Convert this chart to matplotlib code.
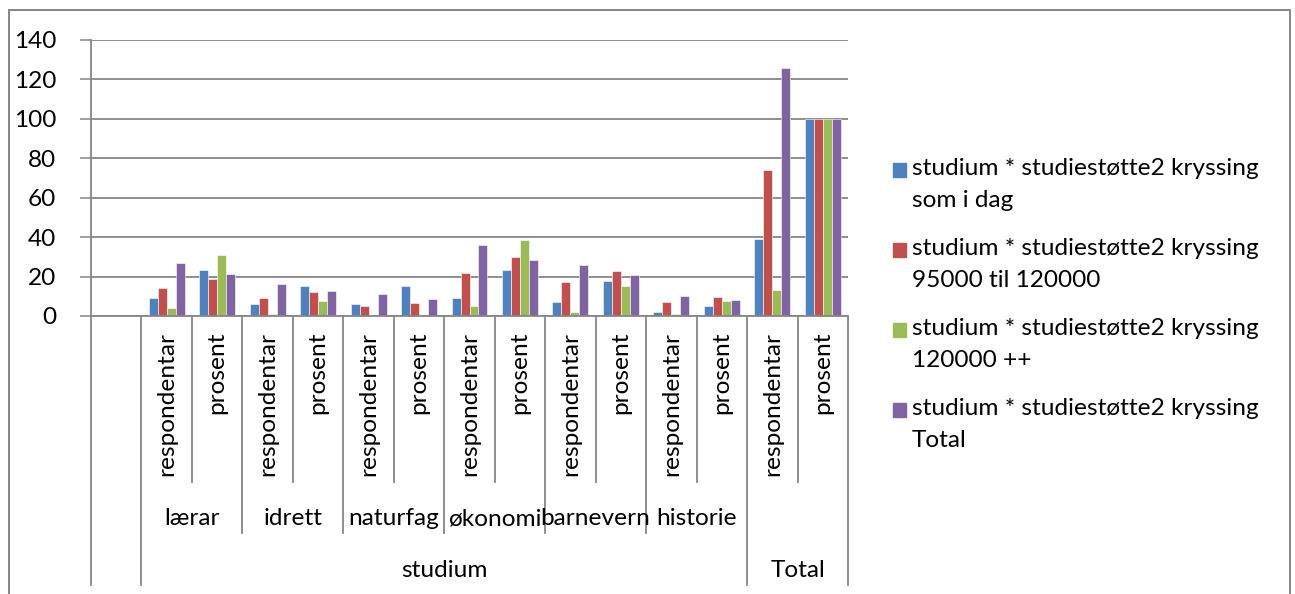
import matplotlib
matplotlib.use('Agg')
import matplotlib.pyplot as plt
import numpy as np
from matplotlib.transforms import blended_transform_factory
from matplotlib.lines import Line2D
from matplotlib.patches import Rectangle

# ---- data ----
groups = ['lærar', 'idrett', 'naturfag', 'økonomi', 'barnevern', 'historie']
top_groups = ['studium', 'Total']
measures = ['respondentar', 'prosent']
series_names = [
    'studium * studiestøtte2 kryssing\nsom i dag',
    'studium * studiestøtte2 kryssing\n95000 til 120000',
    'studium * studiestøtte2 kryssing\n120000 ++',
    'studium * studiestøtte2 kryssing\nTotal',
]
som_i_dag = [9, 23.1, 6, 15.4, 6, 15.4, 9, 23.1, 7, 17.9, 2, 5.1, 39, 100]
k95_120 = [14, 18.9, 9, 12.2, 5, 6.8, 22, 29.7, 17, 23.0, 7, 9.5, 74, 100]
k120_pp = [4, 30.8, 1, 7.7, 0, 0, 5, 38.5, 2, 15.4, 1, 7.7, 13, 100]
total = [27, 21.4, 16, 12.7, 11, 8.7, 36, 28.6, 26, 20.6, 10, 7.9, 126, 100]
yticks = [0, 20, 40, 60, 80, 100, 120, 140]

series = [som_i_dag, k95_120, k120_pp, total]
colors = ['#4F81BD', '#C0504D', '#9BBB59', '#8064A2']

W, H = 1295, 594
fig = plt.figure(figsize=(W / 100, H / 100), dpi=100)
plt.rcParams['font.family'] = ['Lato', 'DejaVu Sans']
FS = 17.6
GRAY = '#868686'

ax = fig.add_axes([91 / W, 1 - 316 / H, (848 - 91) / W, (316 - 40) / H])
ncat = 1 + len(som_i_dag)  # first slot is empty
x = np.arange(1, ncat)
bw = 0.178
for i, (vals, c) in enumerate(zip(series, colors)):
    ax.bar(x + (i - 1.5) * bw, vals, width=bw, color=c, edgecolor='white',
           linewidth=0.4, zorder=3)

ax.set_xlim(-0.5, ncat - 0.5)
ax.set_ylim(0, 140)
ax.set_yticks(yticks)
ax.set_yticklabels([str(v) for v in yticks], fontsize=FS)
ax.tick_params(axis='y', length=8, width=1.1, color=GRAY, pad=17)
ax.set_xticks([])
ax.grid(axis='y', color=GRAY, linewidth=1.3, zorder=0)
for s in ['top', 'right', 'left']:
    ax.spines[s].set_visible(False)
ax.spines['bottom'].set_color(GRAY)
ax.spines['bottom'].set_linewidth(1.3)
ax.spines['bottom'].set_zorder(4)

tr = blended_transform_factory(ax.transData, fig.transFigure)
fy = lambda p: 1 - p / H


def vline(xd, y0, y1):
    fig.add_artist(Line2D([xd, xd], [fy(y0), fy(y1)], transform=tr,
                          color=GRAY, linewidth=1.3, clip_on=False))

# y axis line extended down through the category area
vline(-0.5, 40, 585)
vline(0.5, 316, 585)
vline(ncat - 0.5, 316, 585)
vline(12.5, 316, 585)
for k in range(len(groups)):
    vline(1.5 + 2 * k, 316, 482)
    if k < len(groups) - 1:
        vline(2.5 + 2 * k, 316, 533)
vline(13.5, 316, 482)

# level 1 labels
for j in range(ncat - 1):
    fig.text(x[j], fy(332), measures[j % 2], transform=tr, rotation=90,
             ha='center', va='top', fontsize=FS)
# level 2 labels
for k, g in enumerate(groups):
    fig.text(1.5 + 2 * k, fy(525), g, transform=tr, ha='center',
             va='baseline', fontsize=FS)
# level 3 labels
fig.text(6.5, fy(577), top_groups[0], transform=tr, ha='center',
         va='baseline', fontsize=FS)
fig.text(13.5, fy(577), top_groups[1], transform=tr, ha='center',
         va='baseline', fontsize=FS)

# legend (manual, handle aligned with first line)
for i, (name, c) in enumerate(zip(series_names, colors)):
    yb = 175 + 80 * i
    fig.add_artist(Rectangle((893 / W, fy(yb + 2)), 13 / W, 14 / H,
                             transform=fig.transFigure, color=c))
    for li, line in enumerate(name.split('\n')):
        fig.text(912 / W, fy(yb + 32 * li), line, ha='left', va='baseline',
                 fontsize=FS)

# outer chart border
fig.add_artist(Rectangle((9 / W, -0.05), (1290 - 9) / W, fy(10) + 0.05,
                         transform=fig.transFigure, fill=False,
                         edgecolor=GRAY, linewidth=1.4))

fig.savefig('out.png', dpi=100)
